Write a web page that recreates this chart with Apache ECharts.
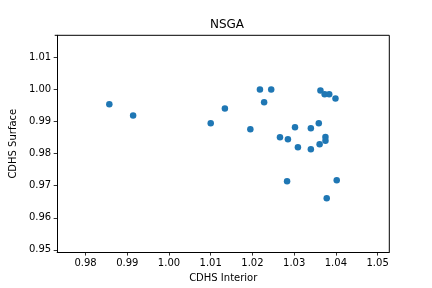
<!DOCTYPE html>
<html>
<head>
<meta charset="utf-8">
<script src="https://cdn.jsdelivr.net/npm/echarts@6/dist/echarts.min.js"></script>
<style>html,body{margin:0;padding:0;background:#fff}#c{width:432px;height:288px}</style>
</head>
<body>
<div id="c"></div>
<script>
const xInterior = [0.9857, 0.9914, 1.0100, 1.0134, 1.0195, 1.0218, 1.0245, 1.0228, 1.0363, 1.0373, 1.0384, 1.0399, 1.0302, 1.0340, 1.0359, 1.0266, 1.0285, 1.0375, 1.0375, 1.0309, 1.0340, 1.0361, 1.0283, 1.0402, 1.0378];
const ySurface  = [0.9954, 0.9919, 0.9895, 0.9941, 0.9876, 1.0000, 1.0000, 0.9960, 0.9997, 0.9985, 0.9985, 0.9972, 0.9882, 0.9879, 0.9895, 0.9851, 0.9845, 0.9852, 0.9840, 0.9820, 0.9814, 0.9829, 0.9714, 0.9717, 0.9661];
const xTicks = [0.98, 0.99, 1.00, 1.01, 1.02, 1.03, 1.04, 1.05];
const yTicks = [0.95, 0.96, 0.97, 0.98, 0.99, 1.00, 1.01];
const titleText = "NSGA";
const xName = "CDHS Interior";
const yName = "CDHS Surface";

const pts = xInterior.map((x, i) => [x, ySurface[i]]);
const font = "DejaVu Sans";
const chart = echarts.init(document.getElementById('c'), null, {renderer: 'canvas'});
chart.setOption({
  animation: false,
  title: {text: titleText, left: 222, textAlign: 'center', top: 14,
    textStyle: {fontFamily: font, fontSize: 12, fontWeight: 'normal', color: '#000'}},
  grid: {left: 54.7, right: 42.7, top: 35.3, bottom: 35.7, containLabel: false},
  xAxis: {
    type: 'value', min: 0.9732, max: 1.0528,
    name: xName, nameLocation: 'middle', nameGap: 20,
    nameTextStyle: {fontFamily: font, fontSize: 10, color: '#000'},
    axisLine: {show: true, onZero: false, lineStyle: {color: '#000', width: 1}},
    axisTick: {show: true, length: 3.5, lineStyle: {color: '#000', width: 0.8}, customValues: xTicks},
    axisLabel: {fontFamily: font, fontSize: 10, color: '#000', margin: 6, customValues: xTicks,
      formatter: v => v.toFixed(2)},
    splitLine: {show: false}
  },
  yAxis: {
    type: 'value', min: 0.9493, max: 1.0169,
    name: yName, nameLocation: 'middle', nameGap: 32,
    nameTextStyle: {fontFamily: font, fontSize: 10, color: '#000'},
    axisLine: {show: true, onZero: false, lineStyle: {color: '#000', width: 1}},
    axisTick: {show: true, length: 3.5, lineStyle: {color: '#000', width: 0.8}, customValues: yTicks},
    axisLabel: {fontFamily: font, fontSize: 10, color: '#000', margin: 6, customValues: yTicks,
      formatter: v => v.toFixed(2)},
    splitLine: {show: false}
  },
  series: [{
    type: 'scatter', data: pts, symbolSize: 6.5,
    itemStyle: {color: '#1f77b4', opacity: 1}
  }],
  graphic: [
    {type: 'line', shape: {x1: 389.3, y1: 35.3, x2: 389.3, y2: 252.3}, style: {stroke: '#000', lineWidth: 1}},
    {type: 'line', shape: {x1: 54.7, y1: 35.3, x2: 389.3, y2: 35.3}, style: {stroke: '#000', lineWidth: 1}}
  ]
});
</script>
</body>
</html>
